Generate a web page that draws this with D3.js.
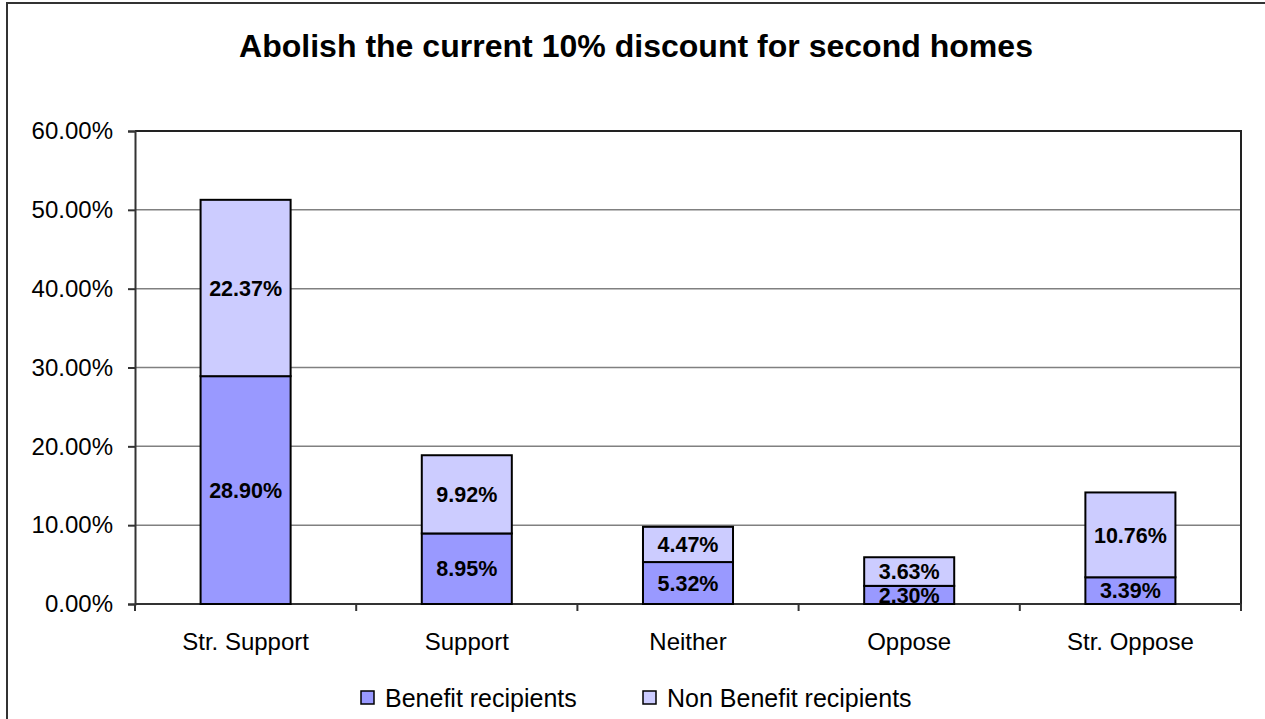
<!DOCTYPE html>
<html>
<head>
<meta charset="utf-8">
<script src="https://cdn.jsdelivr.net/npm/d3@7"></script>
<style>
  html, body { margin: 0; padding: 0; background: #fff; }
  svg { display: block; font-family: Arial, "Liberation Sans", sans-serif; }
</style>
</head>
<body>
<svg id="chart" width="1265" height="719"></svg>
<script>
// Survey responses, share of all respondents (%)
const categories = ["Str. Support", "Support", "Neither", "Oppose", "Str. Oppose"];
const benefitRecipients = [28.90, 8.95, 5.32, 2.30, 3.39];
const nonBenefitRecipients = [22.37, 9.92, 4.47, 3.63, 10.76];
const seriesNames = ["Benefit recipients", "Non Benefit recipients"];
const yTicks = [0, 10, 20, 30, 40, 50, 60];
const titleText = "Abolish the current 10% discount for second homes";

const colors = ["#9999ff", "#ccccff"];

const svg = d3.select("#chart");
const W = 1265, H = 719;
const plot = { left: 135, right: 1241, top: 131, bottom: 604 };

// outer chart-area frame
svg.append("rect")
  .attr("x", 7).attr("y", 3)
  .attr("width", W + 20).attr("height", H + 20)
  .attr("fill", "#fff").attr("stroke", "#333").attr("stroke-width", 2);

// title
svg.append("text")
  .attr("x", 636).attr("y", 57)
  .attr("text-anchor", "middle")
  .attr("font-size", 32).attr("font-weight", "bold")
  .attr("textLength", 794).attr("lengthAdjust", "spacingAndGlyphs")
  .text(titleText);

const x = d3.scaleBand().domain(categories).range([plot.left, plot.right]).paddingInner(0).paddingOuter(0);
const y = d3.scaleLinear().domain([0, 60]).range([plot.bottom, plot.top]);

// horizontal gridlines
svg.append("g").selectAll("line")
  .data(yTicks.filter(t => t > 0 && t < 60))
  .join("line")
  .attr("x1", plot.left).attr("x2", plot.right)
  .attr("y1", d => y(d)).attr("y2", d => y(d))
  .attr("stroke", "#808080").attr("stroke-width", 1.5);

// plot border top & right
svg.append("path")
  .attr("d", `M${plot.left},${plot.top}H${plot.right}V${plot.bottom}`)
  .attr("fill", "none").attr("stroke", "#222").attr("stroke-width", 2);

// y axis
const yAxis = d3.axisLeft(y).tickValues(yTicks).tickSize(7).tickPadding(15)
  .tickFormat(d => d.toFixed(2) + "%");
const yg = svg.append("g").attr("transform", `translate(${plot.left},0)`).call(yAxis);
yg.select(".domain").attr("stroke", "#333").attr("stroke-width", 2);
yg.selectAll(".tick line").attr("stroke", "#333").attr("stroke-width", 2);
yg.selectAll(".tick text").attr("font-size", 24).attr("fill", "#000")
  .attr("font-family", "Arial, 'Liberation Sans', sans-serif");

// x axis: ticks sit on category boundaries
const xg = svg.append("g").attr("transform", `translate(0,${plot.bottom})`);
xg.append("line").attr("x1", plot.left).attr("x2", plot.right)
  .attr("stroke", "#333").attr("stroke-width", 2);
const bounds = categories.map(c => x(c)).concat([x(categories[categories.length - 1]) + x.bandwidth()]);
xg.selectAll("line.tk").data(bounds).join("line").attr("class", "tk")
  .attr("x1", d => d).attr("x2", d => d).attr("y1", 0).attr("y2", 7)
  .attr("stroke", "#333").attr("stroke-width", 2);
xg.selectAll("text").data(categories).join("text")
  .attr("x", d => x(d) + x.bandwidth() / 2).attr("y", 46)
  .attr("text-anchor", "middle").attr("font-size", 24).attr("fill", "#000")
  .text(d => d);

// stacked bars
const rows = categories.map((c, i) => ({ cat: c, b: benefitRecipients[i], n: nonBenefitRecipients[i] }));
const stack = d3.stack().keys(["b", "n"])(rows);
const barW = x.bandwidth() * 0.407;

const layers = svg.append("g").selectAll("g").data(stack).join("g")
  .attr("fill", (d, i) => colors[i]);

layers.selectAll("rect").data(d => d).join("rect")
  .attr("x", d => x(d.data.cat) + (x.bandwidth() - barW) / 2)
  .attr("width", barW)
  .attr("y", d => y(d[1]))
  .attr("height", d => y(d[0]) - y(d[1]))
  .attr("stroke", "#000").attr("stroke-width", 2);

layers.selectAll("text").data(d => d.map(v => ({ v, key: d.key }))).join("text")
  .attr("x", d => x(d.v.data.cat) + x.bandwidth() / 2)
  .attr("y", d => (y(d.v[0]) + y(d.v[1])) / 2)
  .attr("dy", "0.36em")
  .attr("text-anchor", "middle")
  .attr("font-size", 21.5).attr("font-weight", "bold").attr("fill", "#000")
  .text(d => d.v.data[d.key].toFixed(2) + "%");

// legend
const legend = svg.append("g");
const legendX = [361, 643];
seriesNames.forEach((name, i) => {
  legend.append("rect")
    .attr("x", legendX[i]).attr("y", 691).attr("width", 13).attr("height", 13)
    .attr("fill", colors[i]).attr("stroke", "#000").attr("stroke-width", 1.5);
  legend.append("text")
    .attr("x", legendX[i] + 24).attr("y", 707)
    .attr("font-size", 25).attr("fill", "#000")
    .text(name);
});
</script>
</body>
</html>
